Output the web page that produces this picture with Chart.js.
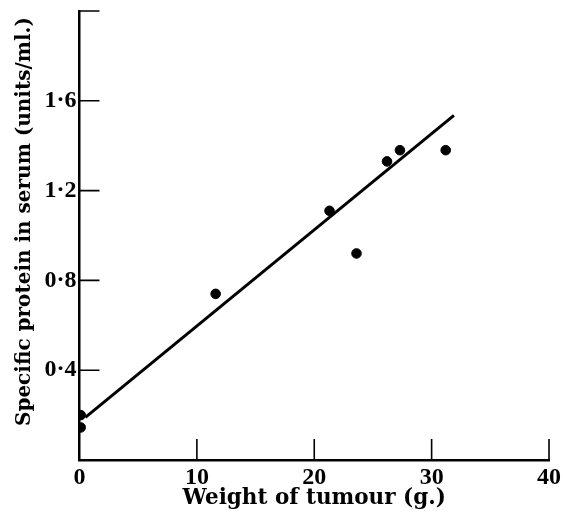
<!DOCTYPE html>
<html>
<head>
<meta charset="utf-8">
<script src="https://cdn.jsdelivr.net/npm/chart.js@4"></script>
<style>
  html, body { margin: 0; padding: 0; background: #fff; }
  #wrap { width: 566px; height: 517px; }
</style>
</head>
<body>
<div id="wrap"><canvas id="mainChart"></canvas></div>
<script>
// tumour weight (g.) against specific protein in serum (units/ml.)
const weights = [0.1, 0.1, 11.6, 21.3, 23.6, 26.2, 27.3, 31.2];
const protein = [0.20, 0.145, 0.74, 1.11, 0.92, 1.33, 1.38, 1.38];

// fitted line, two ends
const fitX = [0.5, 31.9];
const fitY = [0.19, 1.535];

const xTicks = [0, 10, 20, 30, 40];
const yTicks = [0, 0.4, 0.8, 1.2, 1.6, 2.0];

const serif = "'Liberation Serif', 'Times New Roman', serif";
const titleFont = "'DejaVu Serif', serif";

// ticks on this figure point inwards, so draw them here
const inwardTicks = {
  id: 'inwardTicks',
  afterDraw(chart) {
    const ctx = chart.ctx;
    const x = chart.scales.x, y = chart.scales.y;
    ctx.save();
    ctx.strokeStyle = '#000';
    ctx.lineWidth = 1.6;
    ctx.beginPath();
    yTicks.forEach(v => {
      if (v === 0) return;
      const py = y.getPixelForValue(v);
      ctx.moveTo(x.left, py);
      ctx.lineTo(x.left + 20, py);
    });
    xTicks.forEach(v => {
      if (v === 0) return;
      const px = x.getPixelForValue(v);
      ctx.moveTo(px, y.bottom);
      ctx.lineTo(px, y.bottom - 21);
    });
    ctx.stroke();
    ctx.restore();
  }
};

const ctx = document.getElementById('mainChart').getContext('2d');

const data = {
  datasets: [
    {
      type: 'scatter',
      data: weights.map((w, i) => ({ x: w, y: protein[i] })),
      backgroundColor: '#000',
      borderColor: '#000',
      pointRadius: 4.8,
      pointHoverRadius: 4.8,
    },
    {
      type: 'line',
      data: fitX.map((w, i) => ({ x: w, y: fitY[i] })),
      borderColor: '#000',
      borderWidth: 3,
      pointRadius: 0,
      fill: false,
    },
  ],
};

const config = {
  type: 'scatter',
  data: data,
  plugins: [inwardTicks],
  options: {
    responsive: true,
    maintainAspectRatio: false,
    animation: false,
    layout: { padding: { top: 11, right: 17, left: 0, bottom: 0 } },
    plugins: {
      legend: { display: false },
      tooltip: { enabled: false },
    },
    scales: {
      x: {
        type: 'linear',
        min: 0,
        max: 40,
        afterBuildTicks: s => { s.ticks = xTicks.map(v => ({ value: v })); },
        afterFit: s => { s.height = 57; },
        grid: { display: true, drawOnChartArea: false, drawTicks: false },
        border: { display: true, color: '#000', width: 2.5 },
        ticks: {
          color: '#000',
          padding: 3,
          font: { family: serif, size: 24, weight: 'bold' },
          callback: v => String(v),
        },
        title: {
          display: true,
          text: 'Weight of tumour (g.)',
          color: '#000',
          padding: { top: 0, bottom: 6 },
          font: { family: titleFont, size: 21.5, weight: 'bold' },
        },
      },
      y: {
        type: 'linear',
        min: 0,
        max: 2.0,
        afterBuildTicks: s => { s.ticks = yTicks.map(v => ({ value: v })); },
        afterFit: s => {
          s.width = 79.5;
          s.paddingTop = 0;
          s.paddingBottom = 0;
        },
        grid: { display: true, drawOnChartArea: false, drawTicks: false },
        border: { display: true, color: '#000', width: 2.5 },
        ticks: {
          color: '#000',
          padding: 3,
          font: { family: serif, size: 24, weight: 'bold' },
          callback: v => (v === 0 || v === 2) ? '' : v.toFixed(1).replace('.', '\u00b7'),
        },
        title: {
          display: true,
          // leading spaces nudge the centred text up a little
          text: '    Specific protein in serum (units/ml.)',
          color: '#000',
          padding: { top: 13, bottom: 0 },
          font: { family: titleFont, size: 20, weight: 'bold' },
        },
      },
    },
  },
};

const myChart = new Chart(ctx, config);
</script>
</body>
</html>
